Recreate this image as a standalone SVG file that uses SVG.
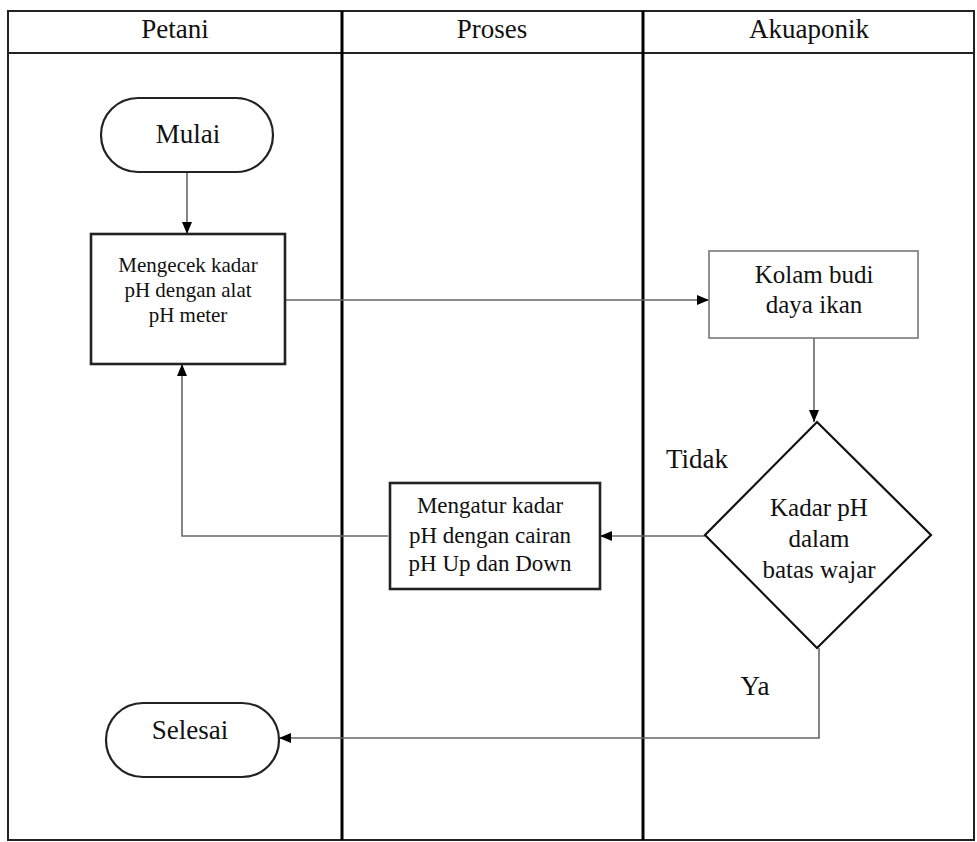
<svg xmlns="http://www.w3.org/2000/svg" width="977" height="842" viewBox="0 0 977 842">
<style>
text{font-family:'Liberation Serif','Times New Roman','DejaVu Serif',serif;fill:#111;text-anchor:middle}
.lane{stroke:#000;stroke-width:3;fill:none}
.frame{stroke:#222;stroke-width:2;fill:none}
.term{fill:#fff;stroke:#222;stroke-width:2.2}
.boxk{fill:#fff;stroke:#222;stroke-width:2.6}
.boxg{fill:#fff;stroke:#777;stroke-width:1.6}
.dia{fill:#fff;stroke:#111;stroke-width:2.2}
.conn{stroke:#666;stroke-width:1.6;fill:none;marker-end:url(#ah)}
.h{font-size:27px}
.t{font-size:27px}
.m{font-size:21px}
.k{font-size:25px}
.g{font-size:23px}
</style>
<defs>
<marker id="ah" viewBox="0 0 12 10" refX="12" refY="5" markerWidth="12" markerHeight="10" markerUnits="userSpaceOnUse" orient="auto">
<path d="M0,0 L12,5 L0,10 Z" fill="#000"/>
</marker>
</defs>
<rect width="977" height="842" fill="#fff"/>
<g id="swimlanes">
<rect class="frame" x="8" y="11" width="966" height="829"/>
<line class="frame" x1="8" y1="53" x2="974" y2="53"/>
<line class="lane" x1="342" y1="11" x2="342" y2="840"/>
<line class="lane" x1="643" y1="11" x2="643" y2="840"/>
<text class="h" x="175" y="38" font-family="Liberation Serif, serif">Petani</text>
<text class="h" x="492" y="38" font-family="Liberation Serif, serif">Proses</text>
<text class="h" x="809" y="38" font-family="Liberation Serif, serif">Akuaponik</text>
</g>
<g id="connectors">
<line class="conn" x1="187" y1="172" x2="187" y2="234"/>
<line class="conn" x1="285" y1="300" x2="709" y2="300"/>
<line class="conn" x1="814" y1="338" x2="814" y2="422"/>
<line class="conn" x1="705" y1="536" x2="600" y2="536"/>
<polyline class="conn" points="388,536 182,536 182,364"/>
<polyline class="conn" points="819,648 819,738 279,738"/>
<text class="t" x="697" y="468" font-family="Liberation Serif, serif">Tidak</text>
<text class="t" x="755" y="695" font-family="Liberation Serif, serif">Ya</text>
</g>
<g id="mulai">
<rect class="term" x="101" y="98" width="172" height="74" rx="37" ry="37"/>
<text class="t" x="188" y="143" font-family="Liberation Serif, serif">Mulai</text>
</g>
<g id="mengecek">
<rect class="boxk" x="91" y="234" width="194" height="130"/>
<text class="m" x="188" y="272" font-family="Liberation Serif, serif">Mengecek kadar</text>
<text class="m" x="188" y="297" font-family="Liberation Serif, serif">pH dengan alat</text>
<text class="m" x="188" y="322" font-family="Liberation Serif, serif">pH meter</text>
</g>
<g id="kolam">
<rect class="boxg" x="709" y="251" width="209" height="87"/>
<text class="k" x="814" y="283" font-family="Liberation Serif, serif">Kolam budi</text>
<text class="k" x="814" y="313" font-family="Liberation Serif, serif">daya ikan</text>
</g>
<g id="decision">
<polygon class="dia" points="817,422 931,535 817,648 705,535"/>
<text class="k" x="819" y="516" font-family="Liberation Serif, serif">Kadar pH</text>
<text class="k" x="819" y="547" font-family="Liberation Serif, serif">dalam</text>
<text class="k" x="819" y="578" font-family="Liberation Serif, serif">batas wajar</text>
</g>
<g id="mengatur">
<rect class="boxk" x="390" y="483" width="210" height="106"/>
<text class="g" x="490" y="513" font-family="Liberation Serif, serif">Mengatur kadar</text>
<text class="g" x="490" y="543" font-family="Liberation Serif, serif">pH dengan cairan</text>
<text class="g" x="490" y="571" font-family="Liberation Serif, serif">pH Up dan Down</text>
</g>
<g id="selesai">
<rect class="term" x="106" y="703" width="173" height="74" rx="37" ry="37"/>
<text class="t" x="190" y="739" font-family="Liberation Serif, serif">Selesai</text>
</g>
</svg>
